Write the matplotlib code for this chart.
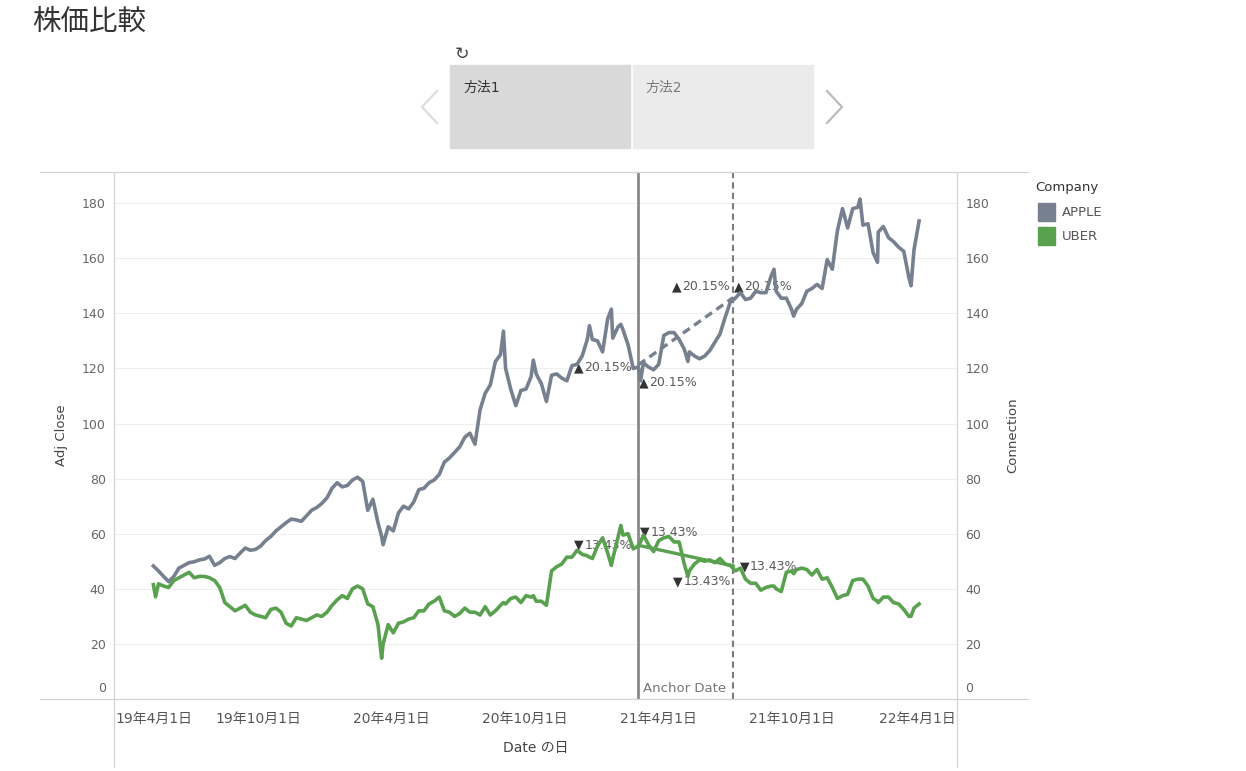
import pandas as pd
import matplotlib.pyplot as plt
from matplotlib.patches import Rectangle
from matplotlib.lines import Line2D
from matplotlib.transforms import ScaledTranslation

# --- データ ---
WEEK_START = '2019-05-10'   # 週次 (金曜)

apple_weekly = [
    48.3, 46.5, 44.5, 42.6, 44.5, 47.5, 48.5, 49.5, 49.8, 50.5,
    50.8, 51.8, 48.5, 49.5, 51.0, 51.7, 51.0, 53.0, 54.8, 54.0,
    54.3, 55.5, 57.5, 59.0, 61.0, 62.5, 64.0, 65.3, 65.0, 64.5,
    66.5, 68.5, 69.5, 71.0, 73.0, 76.5, 78.5, 77.0, 77.5, 79.5,
    80.5, 79.0, 68.5, 72.5, 64.0, 56.0, 62.5, 61.0, 67.5, 70.0,
    69.0, 71.5, 76.0, 76.5, 78.5, 79.5, 81.5, 86.0, 87.5, 89.5,
    91.5, 95.0, 96.5, 92.5, 105.0, 111.0, 114.0, 122.5, 125.0, 120.0,
    112.5, 106.5, 112.0, 112.5, 117.0, 118.0, 114.5, 108.0, 117.5, 118.0,
    116.5, 115.5, 121.0, 121.5, 124.5, 130.5, 130.5, 130.0, 126.0, 138.0,
    131.0, 135.0, 134.0, 128.5, 120.0, 120.5, 122.0, 120.5, 119.5, 121.5,
    132.0, 133.0, 133.0, 130.5, 127.0, 126.0, 124.5, 123.5, 124.5, 126.5,
    129.5, 132.5, 138.5, 144.0, 145.5, 147.5, 145.0, 145.5, 148.0, 147.5,
    147.5, 153.5, 148.0, 145.5, 145.5, 141.5, 141.5, 143.5, 148.0, 149.0,
    150.5, 149.0, 159.5, 156.0, 170.0, 178.0, 171.0, 178.0, 178.5, 172.0,
    172.5, 162.0, 169.5, 171.5, 167.5, 166.0, 164.0, 162.5, 153.0, 163.0,
    173.5,
]

uber_weekly = [
    41.5, 41.8, 41.0, 40.5, 43.0, 44.0, 45.0, 46.0, 44.0, 44.5,
    44.5, 44.0, 43.0, 40.5, 35.0, 33.5, 32.0, 33.0, 34.0, 31.5,
    30.5, 30.0, 29.5, 32.5, 33.0, 31.5, 27.5, 26.5, 29.5, 29.0,
    28.5, 29.5, 30.5, 30.0, 31.5, 34.0, 36.0, 37.5, 36.5, 40.0,
    41.0, 40.0, 34.5, 33.5, 27.0, 20.0, 27.0, 24.0, 27.5, 28.0,
    29.0, 29.5, 32.0, 32.0, 34.5, 35.5, 37.0, 32.0, 31.5, 30.0,
    31.0, 33.0, 31.5, 31.5, 30.5, 33.5, 30.5, 32.0, 34.0, 34.5,
    36.5, 37.0, 35.0, 37.5, 37.0, 35.5, 35.5, 34.0, 46.5, 48.0,
    49.0, 51.5, 51.5, 54.0, 52.5, 52.0, 51.0, 55.5, 58.5, 53.0,
    51.0, 58.5, 59.5, 60.0, 54.5, 55.5, 59.5, 56.0, 53.5, 57.5,
    58.5, 59.0, 57.0, 57.0, 49.0, 46.5, 49.0, 50.5, 50.0, 50.5,
    49.5, 51.0, 49.0, 48.5, 46.5, 47.5, 43.5, 42.0, 42.0, 39.5,
    40.5, 41.0, 40.0, 39.0, 46.0, 46.5, 47.0, 47.5, 47.0, 45.0,
    47.0, 43.5, 44.0, 40.5, 36.5, 37.5, 38.0, 43.0, 43.5, 43.5,
    41.0, 36.5, 35.0, 37.0, 37.0, 35.0, 34.5, 32.5, 30.0, 33.0,
    34.5,
]

# 週次の間にある急な山・谷
extra_dates = ['2019-05-13', '2020-03-18', '2020-09-01', '2020-10-12', '2020-12-28',
               '2021-01-27', '2021-02-09', '2021-03-08', '2021-05-12', '2021-09-07',
               '2021-10-04', '2022-01-03', '2022-01-27', '2022-03-14']
apple_extra = [47.5, 59.0, 133.5, 123.0, 135.5, 141.5, 136.0, 115.5, 122.5, 156.0,
               139.0, 181.5, 158.5, 150.0]
uber_extra = [37.1, 14.8, 35.0, 37.5, 51.5, 48.5, 63.0, 57.0, 44.5, 41.0,
              45.5, 43.5, 35.5, 30.0]

anchor_date = '2021-03-05'
end_date = '2021-07-13'
apple_anchor, apple_end = 121.3, 145.7
uber_anchor, uber_end = 55.8, 48.3
apple_pct = '20.15%'
uber_pct = '13.43%'

tick_dates = ['2019-04-01', '2019-10-01', '2020-04-01', '2020-10-01',
              '2021-04-01', '2021-10-01', '2022-04-01']
tick_labels = ['19年4月1日', '19年10月1日', '20年4月1日', '20年10月1日',
               '21年4月1日', '21年10月1日', '22年4月1日']
y_ticks = [0, 20, 40, 60, 80, 100, 120, 140, 160, 180]

APPLE_COLOR = '#77808e'
UBER_COLOR = '#59a14f'
BORDER = '#d4d4d4'

# --- 準備 ---
plt.rcParams['font.family'] = ['DejaVu Sans', 'Noto Sans CJK JP']

weekly = pd.DataFrame({
    'Date': pd.date_range(WEEK_START, periods=len(apple_weekly), freq='7D'),
    'APPLE': apple_weekly, 'UBER': uber_weekly})
extra = pd.DataFrame({'Date': pd.to_datetime(extra_dates),
                      'APPLE': apple_extra, 'UBER': uber_extra})
df = pd.concat([weekly, extra]).sort_values('Date').reset_index(drop=True)

W, H = 1246, 771
fig = plt.figure(figsize=(W / 100, H / 100), dpi=100)


def fx(px):
    return px / W


def fy(py):
    return 1 - py / H


ax = fig.add_axes([fx(114), fy(699), fx(957) - fx(114), fy(172) - fy(699)])
ax2 = ax.twinx()

anchor = pd.Timestamp(anchor_date)
end = pd.Timestamp(end_date)

# --- 線 ---
ax.plot(df['Date'], df['APPLE'], color=APPLE_COLOR, lw=2.6, zorder=3,
        solid_joinstyle='round')
ax.plot(df['Date'], df['UBER'], color=UBER_COLOR, lw=2.6, zorder=3,
        solid_joinstyle='round')
ax.plot([anchor, end], [apple_anchor, apple_end], color=APPLE_COLOR, lw=2.4,
        ls=(0, (2.5, 1.6)), zorder=3)
ax.plot([anchor, end], [uber_anchor, uber_end], color=UBER_COLOR, lw=2.4, zorder=3)

ax.axvline(anchor, color='#8a8a8a', lw=2.0, zorder=2.5)
ax.axvline(end, color='#7b7b7b', lw=1.5, ls=(0, (3, 2)), zorder=2.5)
ax.annotate('Anchor Date', xy=(anchor, 0), xytext=(5, 10), textcoords='offset pixels',
            ha='left', va='center', fontsize=9.5, color='#777777')


# --- ラベル ▲▼ ---
def pct_label(x, y, dx, dy, txt, tri):
    ha = 'right' if dx < 0 else 'left'
    t = ax.annotate(txt, (x, y), xytext=(dx, -dy), textcoords='offset pixels',
                    ha=ha, va='center', fontsize=9, color='#5a5a5a', zorder=2)
    ax.annotate(tri, xy=(0, 0.5), xycoords=t, xytext=(-1, 0), textcoords='offset pixels',
                ha='right', va='center', fontsize=9, color='#333333', zorder=2)


pct_label(anchor, apple_anchor, -6, 3, apple_pct, '▲')
pct_label(anchor, apple_anchor, 11, 18, apple_pct, '▲')
pct_label(end, apple_end, -3, -11, apple_pct, '▲')
pct_label(end, apple_end, 11, -11, apple_pct, '▲')
pct_label(anchor, uber_anchor, -6, 0, uber_pct, '▼')
pct_label(anchor, uber_anchor, 12, -13, uber_pct, '▼')
pct_label(end, uber_end, -2, 16, uber_pct, '▼')
pct_label(end, uber_end, 17, 1, uber_pct, '▼')

# --- 軸 ---
ax.set_xlim(pd.Timestamp('2019-03-17'), pd.Timestamp('2022-05-16'))
for a in (ax, ax2):
    a.set_ylim(0, 191.3)
    a.set_yticks(y_ticks, labels=[''] + [str(v) for v in y_ticks[1:]])
    a.tick_params(axis='y', length=0, pad=6, labelsize=9, labelcolor='#666666')
    for s in a.spines.values():
        s.set_visible(False)
    a.annotate('0', xy=(0 if a is ax else 1, 0), xycoords=('axes fraction', 'data'),
               xytext=(-8 if a is ax else 8, 11), textcoords='offset pixels',
               ha='right' if a is ax else 'left', va='center', fontsize=9, color='#666666')

ax.set_xticks(pd.to_datetime(tick_dates), labels=tick_labels)
ax.tick_params(axis='x', length=0, pad=9, labelsize=10, labelcolor='#555555')
ax.grid(axis='y', color='#efefef', lw=0.8)
ax.set_axisbelow(True)

fig.text(fx(62), fy(435), 'Adj Close', rotation=90, ha='center', va='center',
         fontsize=9.5, color='#444444')
fig.text(fx(1013), fy(435), 'Connection', rotation=90, ha='center', va='center',
         fontsize=9.5, color='#444444')
fig.text(fx(535.5), fy(748), 'Date の日', ha='center', va='center',
         fontsize=10, color='#444444')

# 枠線
for xs, ys in [([40, 1028], [172, 172]), ([40, 1028], [699, 699]),
               ([114, 114], [172, 767]), ([957, 957], [172, 767])]:
    fig.add_artist(Line2D([fx(v) for v in xs], [fy(v) for v in ys],
                          transform=fig.transFigure, color=BORDER, lw=0.9))

# --- タイトル・ストーリー ---
fig.text(fx(32), fy(22), '株価比較', fontsize=20.5, color='#333333', va='center')
fig.text(fx(462), fy(54), '↻', ha='center', va='center', fontsize=12.5, color='#444444')
fig.patches.append(Rectangle((fx(450), fy(148)), fx(630) - fx(450), fy(65) - fy(148),
                             transform=fig.transFigure, color='#d9d9d9'))
fig.patches.append(Rectangle((fx(633), fy(148)), fx(813) - fx(633), fy(65) - fy(148),
                             transform=fig.transFigure, color='#ebebeb'))
fig.text(fx(463), fy(88), '方法1', fontsize=10, color='#333333', va='center')
fig.text(fx(645), fy(88), '方法2', fontsize=10, color='#7a7a7a', va='center')
fig.add_artist(Line2D([fx(437), fx(422), fx(437)], [fy(91), fy(107), fy(123)],
                      transform=fig.transFigure, color='#dddddd', lw=1.6))
fig.add_artist(Line2D([fx(827), fx(842), fx(827)], [fy(91), fy(107), fy(123)],
                      transform=fig.transFigure, color='#bbbbbb', lw=1.6))

# --- 凡例 ---
fig.text(fx(1035), fy(188), 'Company', fontsize=9.5, color='#333333', va='center')
for name, color, py in [('APPLE', APPLE_COLOR, 212), ('UBER', UBER_COLOR, 236)]:
    fig.patches.append(Rectangle((fx(1038), fy(py + 8.5)), fx(17), fy(0) - fy(17),
                                 transform=fig.transFigure, color=color))
    fig.text(fx(1062), fy(py), name, fontsize=9.5, color='#555555', va='center')

# 端の日付ラベルを枠内に収める
fig.canvas.draw()
ax_bb = ax.get_window_extent()
for lbl in ax.get_xticklabels():
    bb = lbl.get_window_extent()
    shift = 0
    if bb.x0 < ax_bb.x0 + 1:
        shift = ax_bb.x0 + 1 - bb.x0
    elif bb.x1 > ax_bb.x1 - 1:
        shift = ax_bb.x1 - 1 - bb.x1
    if shift:
        lbl.set_transform(lbl.get_transform() +
                          ScaledTranslation(shift / 100, 0, fig.dpi_scale_trans))

fig.savefig('out.png', dpi=100)
